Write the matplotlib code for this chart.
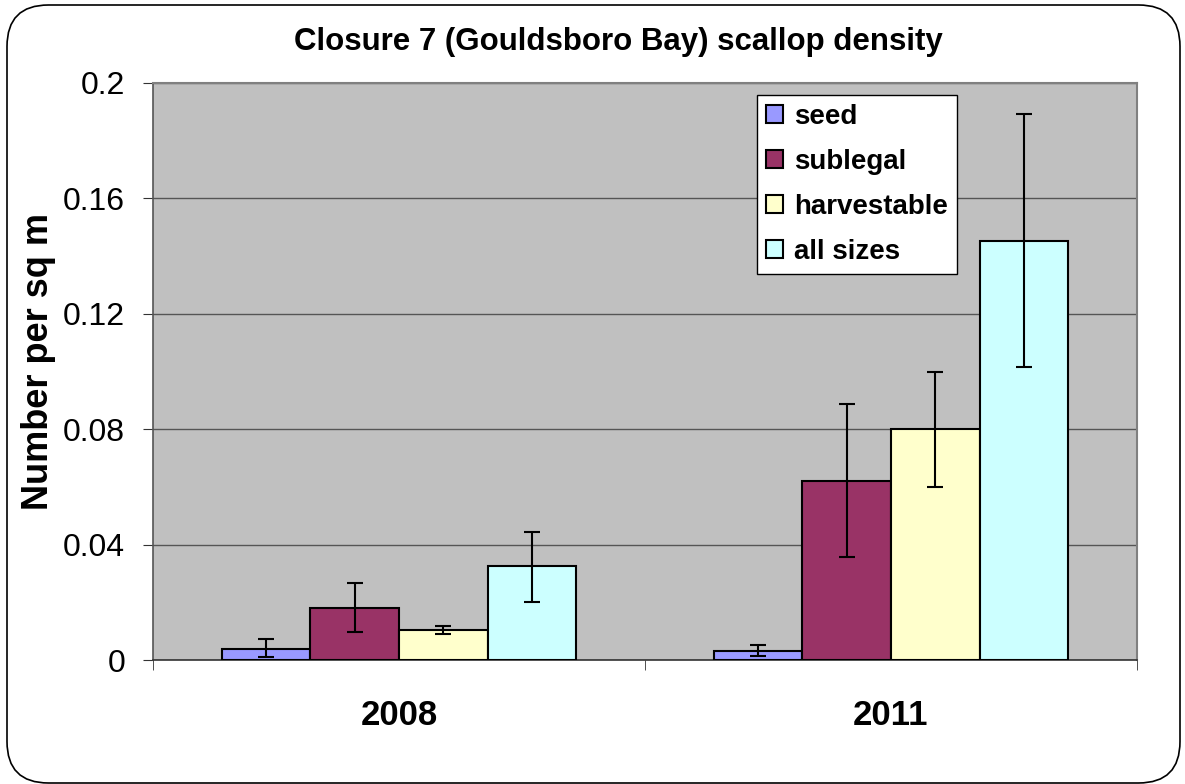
import matplotlib
matplotlib.use("Agg")
import matplotlib.pyplot as plt
from matplotlib.patches import FancyBboxPatch
import numpy as np

plt.rcParams['font.family'] = ['Liberation Sans', 'DejaVu Sans']

years = ["2008", "2011"]
series = ["seed", "sublegal", "harvestable", "all sizes"]
colors = ["#9999FF", "#993366", "#FFFFCC", "#CCFFFF"]
values = {
    "seed": [0.0038, 0.0031],
    "sublegal": [0.0180, 0.0620],
    "harvestable": [0.0104, 0.0800],
    "all sizes": [0.0326, 0.1452],
}
err_low = {
    "seed": [0.0010, 0.0014],
    "sublegal": [0.0097, 0.0357],
    "harvestable": [0.0090, 0.0598],
    "all sizes": [0.0201, 0.1016],
}
err_high = {
    "seed": [0.0073, 0.0052],
    "sublegal": [0.0267, 0.0887],
    "harvestable": [0.0118, 0.0998],
    "all sizes": [0.0444, 0.1892],
}
yticks = [0, 0.04, 0.08, 0.12, 0.16, 0.2]
ytick_labels = ["0", "0.04", "0.08", "0.12", "0.16", "0.2"]

fig = plt.figure(figsize=(11.85, 7.84), dpi=100)
fig.patch.set_facecolor("white")
border = FancyBboxPatch((7/1185, 1/784), 1173/1185, 778/784,
                        boxstyle="round,pad=0,rounding_size=0.035",
                        transform=fig.transFigure, facecolor="white",
                        edgecolor="black", linewidth=1.2, mutation_aspect=1185/784,
                        zorder=-10)
fig.patches.append(border)

ax = fig.add_axes([153/1185, 1 - 660/784, 984/1185, 577/784])
ax.set_facecolor("#C0C0C0")

x = np.arange(len(years))
w = 0.18
for i, s in enumerate(series):
    pos = x + (i - 1.5) * w
    v = np.array(values[s])
    lo = v - np.array(err_low[s])
    hi = np.array(err_high[s]) - v
    ax.bar(pos, v, width=w, color=colors[i], edgecolor="black", linewidth=1.5,
           label=s, zorder=3)
    ax.errorbar(pos, v, yerr=[lo, hi], fmt="none", ecolor="black",
                elinewidth=1.5, capsize=6, capthick=1.5, zorder=4)

ax.set_xlim(-0.5, 1.5)
ax.set_ylim(0, 0.2)
ax.set_yticks(yticks)
ax.set_yticklabels(ytick_labels, fontsize=23)
ax.yaxis.grid(True, color="#555555", linewidth=1.0, zorder=1)
ax.set_axisbelow(True)
ax.set_xticks(x)
ax.set_xticklabels(years, fontsize=25, fontweight="bold")
ax.set_xticks([-0.5, 0.5, 1.5], minor=True)
ax.tick_params(axis="x", which="major", length=0, pad=28)
ax.tick_params(axis="x", which="minor", length=7, color="#333333")
ax.tick_params(axis="y", length=7, color="#333333", pad=13)
for sp in ["top", "right"]:
    ax.spines[sp].set_color("#808080")
    ax.spines[sp].set_linewidth(1.5)
ax.spines["left"].set_color("#555555")
ax.spines["bottom"].set_color("#333333")
ax.spines["left"].set_linewidth(1.2)
ax.spines["bottom"].set_linewidth(1.2)

ax.set_ylabel("Number per sq m", fontsize=26, fontweight="bold")
ax.yaxis.set_label_coords(-0.0985, 0.518)
fig.text(618/1185, 1 - 42/784, "Closure 7 (Gouldsboro Bay) scallop density",
         fontsize=22.5, fontweight="bold", ha="center", va="center")

leg = ax.legend(loc="upper left", bbox_to_anchor=(0.614, 0.979),
                prop={"weight": "bold", "size": 20}, frameon=True, fancybox=False,
                edgecolor="black", framealpha=1, handlelength=0.6, handleheight=0.6,
                handletextpad=0.4, labelspacing=0.68, borderpad=0.32,
                borderaxespad=0)
leg.get_frame().set_linewidth(1.0)

fig.savefig("out.png", dpi=100)
